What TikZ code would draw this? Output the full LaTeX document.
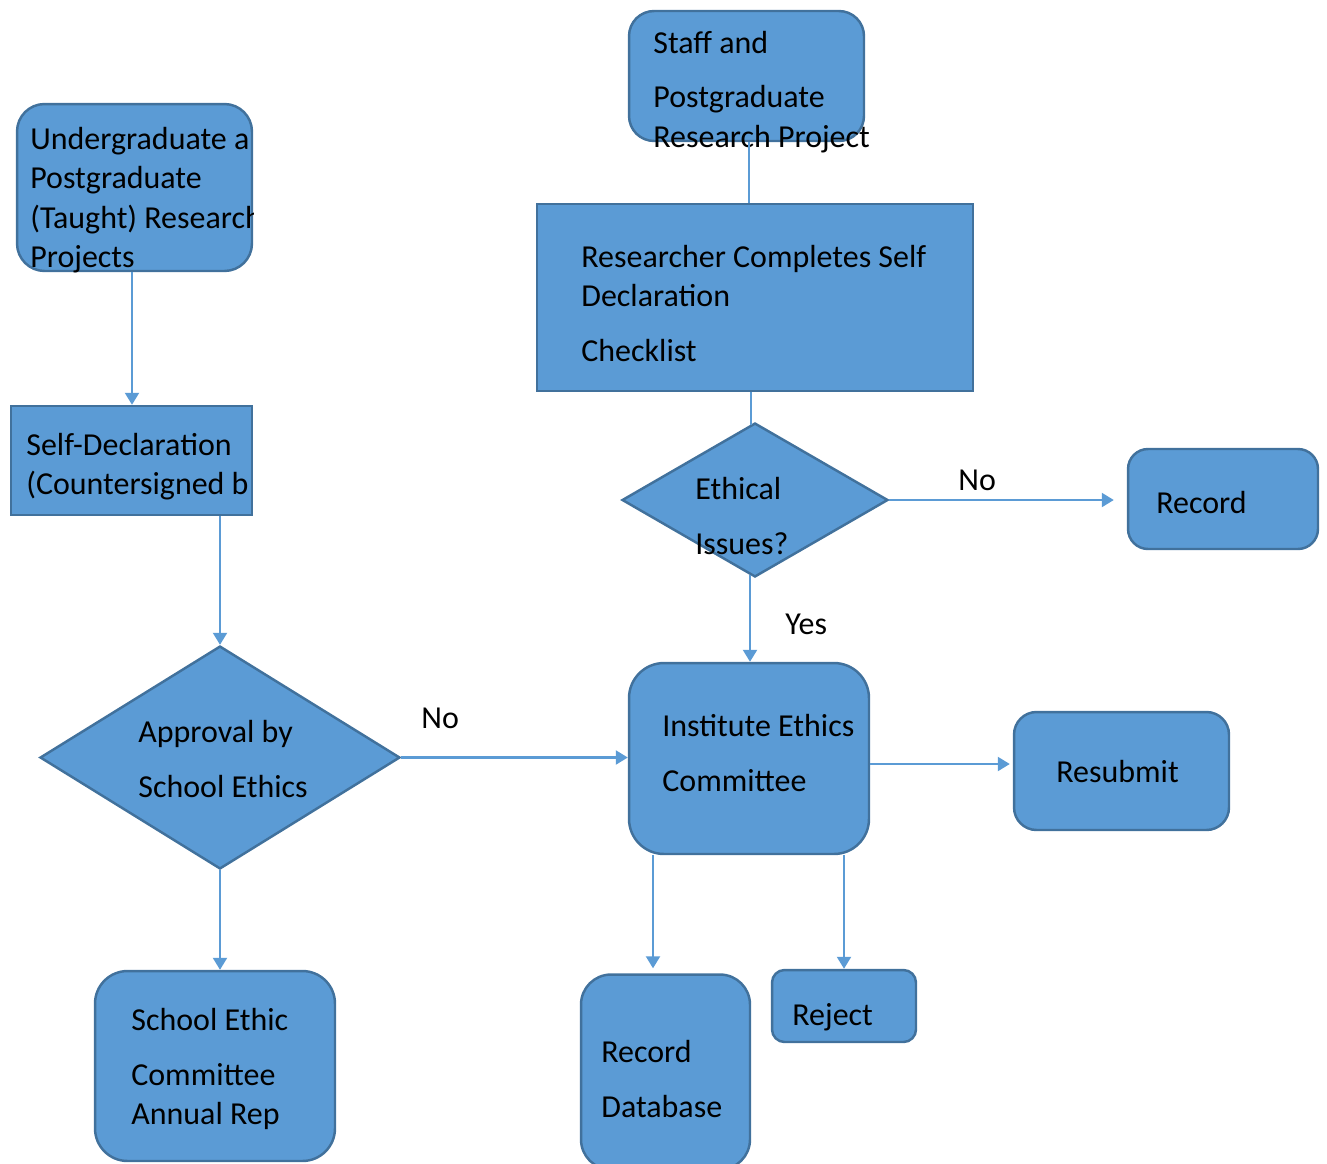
\documentclass[tikz,border=0pt]{standalone}
\usepackage{fontspec}
\setmainfont{Carlito}
\usetikzlibrary{arrows.meta,positioning,shapes.geometric,calc}
\definecolor{boxblue}{HTML}{5B9BD5}
\definecolor{edgeblue}{HTML}{41719C}

\begin{document}
\begin{tikzpicture}[x=0.02cm, y=-0.02cm, >={Triangle[length=2.4mm,width=2.8mm]},
  box/.style={draw=edgeblue, fill=boxblue, line width=1.4pt, inner sep=0pt},
  rbox/.style={box, rounded corners=#1}, rbox/.default=0.5cm,
  dia/.style={box, diamond},
  txt/.style={anchor=base west, align=left, inner sep=0pt, font=\fontsize{18.2}{22.2}\selectfont},
  flow/.style={draw=boxblue, line width=1.2pt}]
  \useasboundingbox (0,0) rectangle (1327,1163);

  % left column
  \node (ug) [rbox=0.55cm, minimum width=4.7cm, minimum height=3.34cm] at (134.5,187.5) {};
  \node (sd) [box, minimum width=4.82cm, minimum height=2.18cm] at (131.5,460.5) {};
  \node (appr) [dia, minimum width=7.2cm, minimum height=4.46cm] at (220,757.5) {};
  \node (sec) [rbox=0.65cm, minimum width=4.8cm, minimum height=3.8cm] at (215,1066) {};

  % right column
  \node (staff) [rbox, minimum width=4.7cm, minimum height=2.6cm] at (746.5,76) {};
  \node (res) [box, minimum width=8.72cm, minimum height=3.74cm] at (755,297.5) {};
  \node (eth) [dia, minimum width=5.32cm, minimum height=3.08cm] at (755,500) {};
  \node (rec) [rbox=0.4cm, minimum width=3.8cm, minimum height=2cm] at (1223,499) {};
  \node (inst) [rbox=0.7cm, minimum width=4.8cm, minimum height=3.82cm] at (749,758.5) {};
  \node (resub) [rbox=0.45cm, minimum width=4.3cm, minimum height=2.36cm] at (1121.5,771) {};
  \node (db) [rbox=0.6cm, minimum width=3.38cm, minimum height=3.9cm] at (665.5,1072) {};
  \node (rej) [rbox=0.25cm, minimum width=2.88cm, minimum height=1.44cm] at (844,1006) {};

  % texts (placed at the baseline of the last line)
  \begin{scope}
    \clip (ug.north west) rectangle (ug.east |- sd.north);
    \node (ug-t) [txt] at (30,267) {Undergraduate a\\Postgraduate\\(Taught) Research\\Projects};
  \end{scope}
  \node (sd-t) [txt] at (26,494) {Self-Declaration\\(Countersigned b};
  \node (appr-t) [txt] at (138,797) {Approval by\\[9pt]School Ethics};
  \node (sec-t) [txt] at (131,1124) {School Ethic\\[9pt]Committee\\Annual Rep};
  \node (staff-t) [txt] at (653,147) {Staff and\\[9pt]Postgraduate\\Research Project};
  \node (res-t) [txt] at (581,361) {Researcher Completes Self\\Declaration\\[9pt]Checklist};
  \node (eth-t) [txt] at (695,554) {Ethical\\[9pt]Issues?};
  \node (rec-t) [txt] at (1156,513) {Record};
  \node (inst-t) [txt] at (662,791) {Institute Ethics\\[9pt]Committee};
  \node (resub-t) [txt] at (1056,782) {Resubmit};
  \node (db-t) [txt] at (601,1117) {Record\\[9pt]Database};
  \node (rej-t) [txt] at (792,1025) {Reject};

  % connectors
  \draw[flow,->] ($(ug.south)+(-2.5,0)$) -- ($(ug.south |- sd.north)+(-2.5,0)$);
  \draw[flow,->] (sd.south -| appr.north) -- (appr.north);
  \draw[flow,->] (appr.east) -- (appr.east -| inst.west);
  \draw[flow,->] (appr.south) -- (appr.south |- sec.north);
  \draw[flow] ($(staff.south)+(2.5,0)$) -- ($(staff.south |- res.north)+(2.5,0)$);
  \draw[flow] ($(res.south)+(-4,0)$) -- ($(eth.north)+(-4,3)$);
  \draw[flow,->,shorten >=0.26cm] (eth.east) -- (eth.east -| rec.west);
  \draw[flow,->] ($(eth.south)+(-5,-3)$) -- ($(eth.south |- inst.north)+(-5,0)$);
  \draw[flow,->,shorten >=0.06cm] ($(inst.east)+(0,5.5)$) -- ($(inst.east -| resub.west)+(0,5.5)$);
  \draw[flow,->,shorten >=0.1cm] ($(db.north |- inst.south)+(-12.5,0)$) -- ($(db.north)+(-12.5,0)$);
  \draw[flow,->] (rej.north |- inst.south) -- (rej.north);

  % branch labels
  \node (no-a) [txt] at (421,728) {No};
  \node (no-b) [txt] at (958,490) {No};
  \node (yes) [txt] at (785,634) {Yes};
\end{tikzpicture}
\end{document}
